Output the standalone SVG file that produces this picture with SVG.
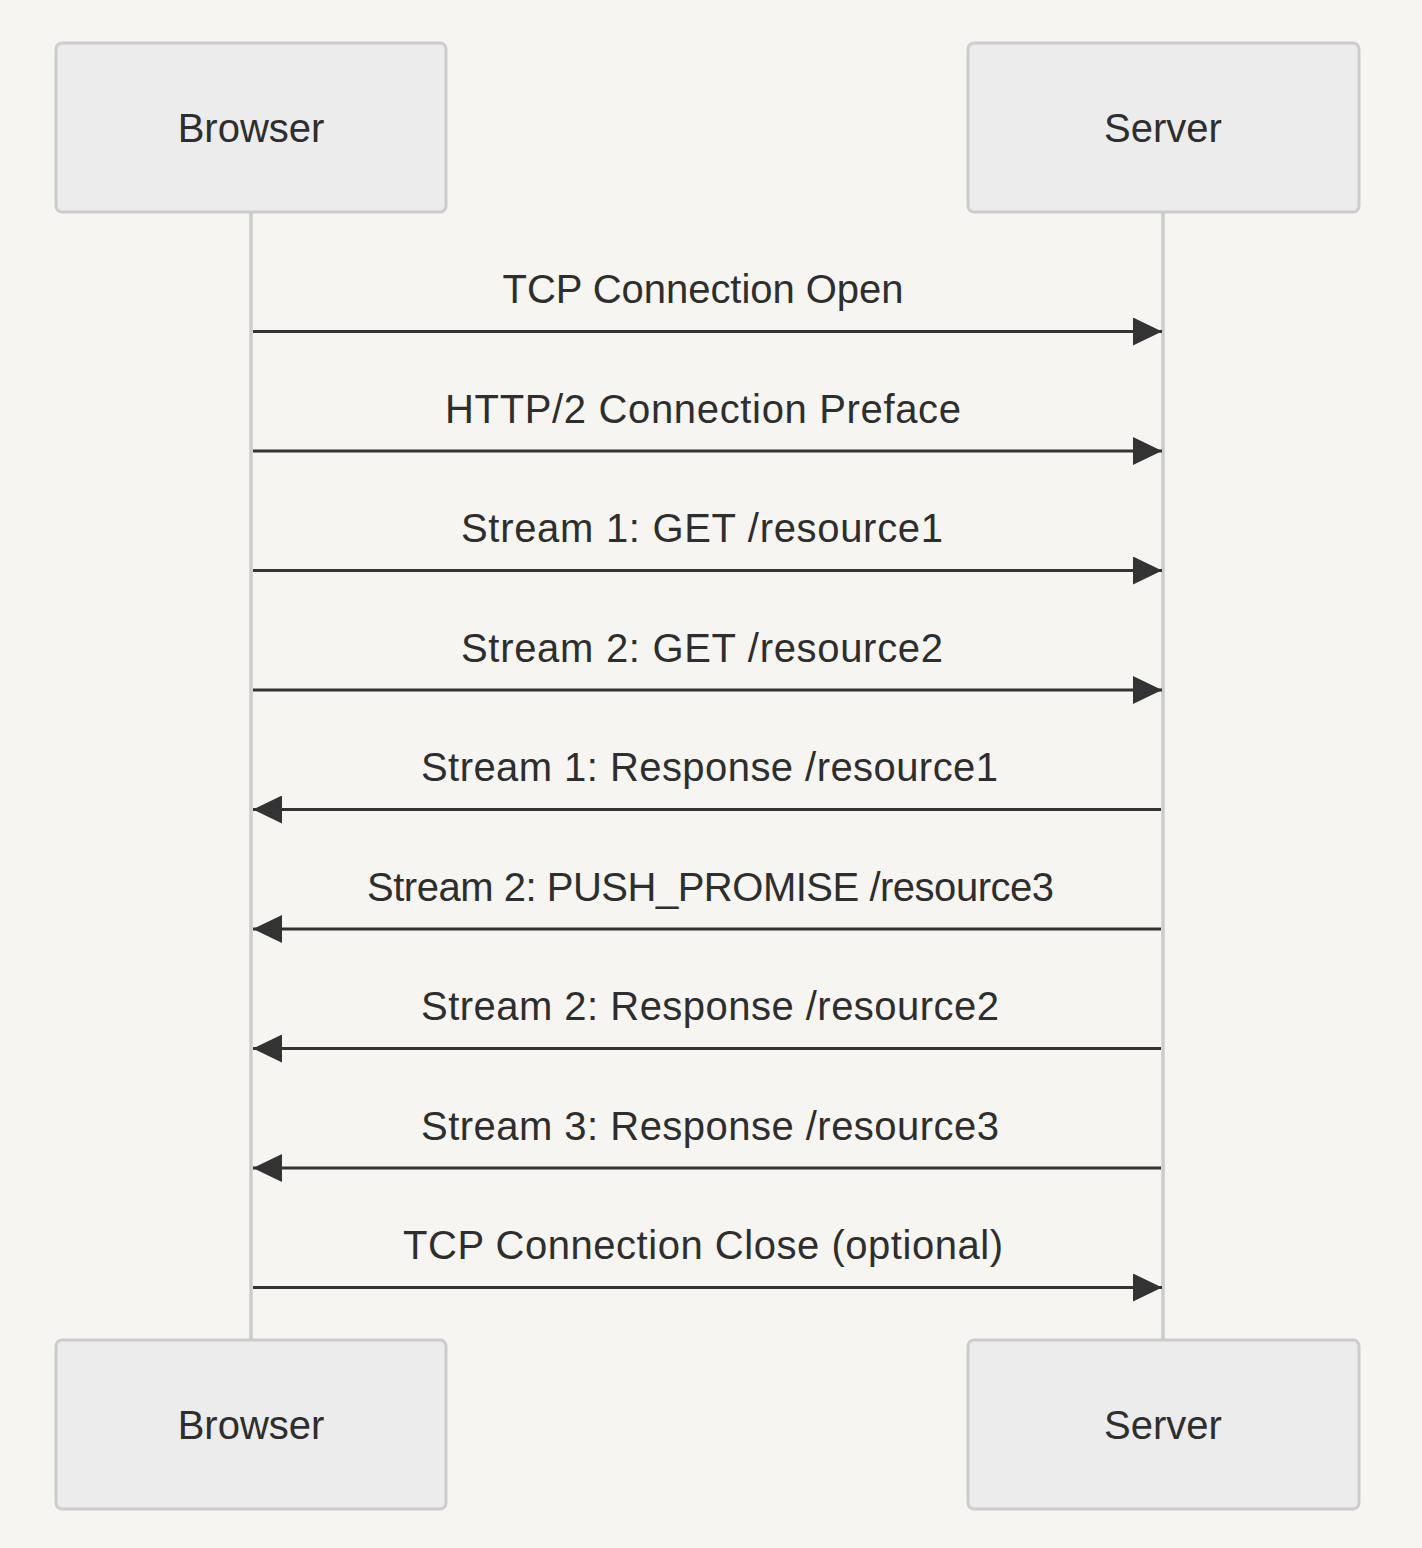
<svg xmlns="http://www.w3.org/2000/svg" width="1422" height="1548" viewBox="0 0 1422 1548">
<defs>
<style>
.actor{fill:#ececec;stroke:#cccccc;stroke-width:3}
.lbl{font-family:"Liberation Sans",Arial,sans-serif;font-size:40px;fill:#2e2e2e;text-anchor:middle}
.life{stroke:#cccccc;stroke-width:3.5}
.msg{stroke:#333333;stroke-width:3;fill:none}
</style>
<marker id="ah" markerUnits="userSpaceOnUse" markerWidth="30" markerHeight="28" refX="29" refY="14" orient="auto">
<path d="M0,0 L29,14 L0,28 Z" fill="#333333"/>
</marker>
</defs>
<rect width="1422" height="1548" fill="#f6f5f1"/>
<g id="lifelines">
<line class="life" x1="251" y1="212" x2="251" y2="1340"/>
<line class="life" x1="1163" y1="212" x2="1163" y2="1340"/>
</g>
<g id="browser-top">
<rect class="actor" x="56" y="43" width="390" height="169" rx="6"/>
<text class="lbl" x="251" y="142">Browser</text>
</g>
<g id="server-top">
<rect class="actor" x="968" y="43" width="391" height="169" rx="6"/>
<text class="lbl" x="1163" y="142">Server</text>
</g>
<g id="browser-bottom">
<rect class="actor" x="56" y="1340" width="390" height="169" rx="6"/>
<text class="lbl" x="251" y="1439">Browser</text>
</g>
<g id="server-bottom">
<rect class="actor" x="968" y="1340" width="391" height="169" rx="6"/>
<text class="lbl" x="1163" y="1439">Server</text>
</g>
<g id="connectors">
<line class="msg" x1="253" y1="331.5" x2="1162" y2="331.5" marker-end="url(#ah)"/>
<text class="lbl" x="703" y="303" textLength="401" lengthAdjust="spacing">TCP Connection Open</text>
<line class="msg" x1="253" y1="451" x2="1162" y2="451" marker-end="url(#ah)"/>
<text class="lbl" x="703" y="422.5" textLength="516" lengthAdjust="spacing">HTTP/2 Connection Preface</text>
<line class="msg" x1="253" y1="570.5" x2="1162" y2="570.5" marker-end="url(#ah)"/>
<text class="lbl" x="702" y="542" textLength="482" lengthAdjust="spacing">Stream 1: GET /resource1</text>
<line class="msg" x1="253" y1="690" x2="1162" y2="690" marker-end="url(#ah)"/>
<text class="lbl" x="702" y="661.5" textLength="482" lengthAdjust="spacing">Stream 2: GET /resource2</text>
<line class="msg" x1="1161" y1="809.5" x2="253" y2="809.5" marker-end="url(#ah)"/>
<text class="lbl" x="709.5" y="781" textLength="577" lengthAdjust="spacing">Stream 1: Response /resource1</text>
<line class="msg" x1="1161" y1="929" x2="253" y2="929" marker-end="url(#ah)"/>
<text class="lbl" x="710.5" y="900.5" textLength="687" lengthAdjust="spacing">Stream 2: PUSH_PROMISE /resource3</text>
<line class="msg" x1="1161" y1="1048.5" x2="253" y2="1048.5" marker-end="url(#ah)"/>
<text class="lbl" x="710" y="1020" textLength="578" lengthAdjust="spacing">Stream 2: Response /resource2</text>
<line class="msg" x1="1161" y1="1168" x2="253" y2="1168" marker-end="url(#ah)"/>
<text class="lbl" x="710" y="1139.5" textLength="578" lengthAdjust="spacing">Stream 3: Response /resource3</text>
<line class="msg" x1="253" y1="1287.5" x2="1162" y2="1287.5" marker-end="url(#ah)"/>
<text class="lbl" x="703" y="1259" textLength="600" lengthAdjust="spacing">TCP Connection Close (optional)</text>
</g>
</svg>
